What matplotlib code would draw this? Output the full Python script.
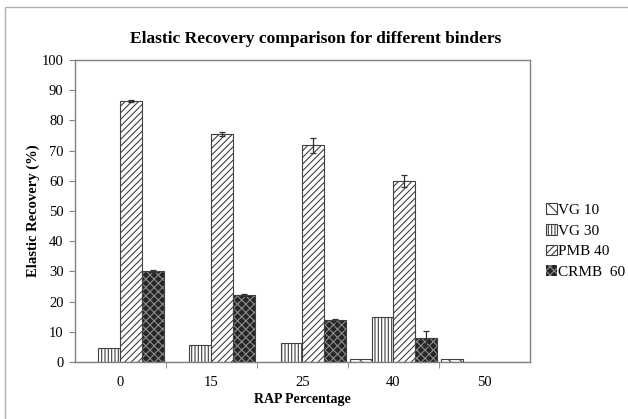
import numpy as np
import matplotlib.pyplot as plt
from matplotlib.patches import Rectangle

# Elastic recovery (%) of each binder against RAP content
rap_labels = ["0", "15", "25", "40", "50"]
vg10 = [0, 0, 0, 1.0, 1.0]
vg30 = [4.7, 5.5, 6.4, 14.8, 0]
pmb40 = [86.3, 75.4, 71.8, 59.8, 0]
crmb60 = [30.2, 22.1, 13.8, 7.8, 0]
pmb40_err = [0.3, 0.7, 2.5, 2.0, 0]
crmb60_err = [0.3, 0.3, 0.4, 2.5, 0]

plt.rcParams["font.family"] = ["Liberation Serif", "DejaVu Serif"]
plt.rcParams["hatch.linewidth"] = 0.8

fig = plt.figure(figsize=(6.28, 4.19), dpi=100)
ax = fig.add_axes([0.119, 0.136, 0.725, 0.721])

x = np.arange(len(rap_labels))
w = 0.24
edge = "#404040"

ax.bar(x - 1.5 * w, vg10, w, facecolor="white", edgecolor=edge,
       hatch="\\\\\\", linewidth=0.8, label="VG 10")
ax.bar(x - 0.5 * w, vg30, w, facecolor="white", edgecolor=edge,
       hatch="|||||", linewidth=0.8, label="VG 30")
ax.bar(x + 0.5 * w, pmb40, w, facecolor="white", edgecolor=edge,
       hatch="/////", linewidth=0.8, label="PMB 40")
# dark dotted fill, then a plain outline on top
ax.bar(x + 1.5 * w, crmb60, w, facecolor="#262626", edgecolor="#8c8c8c",
       hatch="xxxx", linewidth=0, label="CRMB  60")
ax.bar(x + 1.5 * w, crmb60, w, fill=False, edgecolor=edge, linewidth=0.8)

n = 4  # groups that carry error bars
err_x = np.concatenate([x[:n] + 0.5 * w, x[:n] + 1.5 * w])
err_y = pmb40[:n] + crmb60[:n]
err_e = pmb40_err[:n] + crmb60_err[:n]
ax.errorbar(err_x, err_y, yerr=err_e, fmt="none", ecolor="#303030",
            elinewidth=0.9, capsize=2.5, capthick=0.9)

ax.set_xlim(-0.5, len(rap_labels) - 0.5)
ax.set_ylim(0, 100)
ax.set_yticks(np.arange(0, 101, 10))
ax.set_xticks(x)
ax.set_xticklabels(rap_labels)
ax.set_xticks(np.arange(0.5, len(rap_labels) - 0.5, 1), minor=True)
ax.tick_params(axis="x", which="major", length=0, labelsize=10.5, pad=10)
ax.tick_params(axis="x", which="minor", length=4, color="#808080")
ax.tick_params(axis="y", length=4, color="#808080", labelsize=10.5, pad=4)
for s in ax.spines.values():
    s.set_color("#808080")
    s.set_linewidth(1.0)

ax.set_ylabel("Elastic Recovery (%)", fontsize=10.5, fontweight="bold", labelpad=1)
ax.set_xlabel("RAP Percentage", fontsize=10, fontweight="bold", labelpad=3)
fig.text(0.502, 0.908, "Elastic Recovery comparison for different binders",
         ha="center", va="center", fontsize=12.5, fontweight="bold")

ax.legend(loc="center left", bbox_to_anchor=(1.005, 0.40), frameon=False,
          fontsize=11, handlelength=0.7, handleheight=0.7, handletextpad=0.1,
          labelspacing=0.45)

# chart frame
fig.patches.append(Rectangle((5 / 628, -0.1), 1.2, 1 - 7 / 419 + 0.1,
                             transform=fig.transFigure, fill=False,
                             edgecolor="#b0b0b0", linewidth=1.0))

fig.savefig("out.png", dpi=100)
